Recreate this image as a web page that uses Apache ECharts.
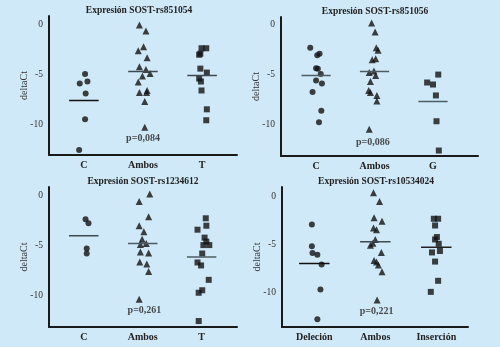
<!DOCTYPE html>
<html>
<head>
<meta charset="utf-8">
<script src="https://cdn.jsdelivr.net/npm/echarts@6/dist/echarts.min.js"></script>
<style>
html, body { margin: 0; padding: 0; background: #cfe9f8; }
#chart { width: 500px; height: 347px; }
</style>
</head>
<body>
<div id="chart"></div>
<script>
// titles, group labels and p values of the four panels
var titles = ['Expresión SOST-rs851054', 'Expresión SOST-rs851056', 'Expresión SOST-rs1234612', 'Expresión SOST-rs10534024'];
var groups = [['C', 'Ambos', 'T'], ['C', 'Ambos', 'G'], ['C', 'Ambos', 'T'], ['Deleción', 'Ambos', 'Inserción']];
var pValues = ['p=0,084', 'p=0,086', 'p=0,261', 'p=0,221'];
var yTicks = [0, -5, -10];

// deltaCt values per group, with the horizontal scatter offset of each point
var rs851054_C = [-4.95, -5.9, -5.7, -6.9, -9.5, -12.6];
var rs851054_C_dx = [0.02, -0.07, 0.06, 0.03, 0.02, -0.08];
var rs851054_A = [0, -0.6, -2.2, -2.6, -3.3, -4.2, -4.5, -4.9, -5.15, -5.75, -6.8, -6.6, -6.8, -7.7, -10.3];
var rs851054_A_dx = [-0.06, 0.05, 0.01, -0.08, 0.07, -0.06, 0.05, 0.12, -0.01, -0.08, -0.06, 0.07, 0.06, 0.03, 0.03];
var rs851054_T = [-2.35, -2.35, -2.9, -3.0, -4.4, -4.8, -5.4, -5.7, -6.6, -8.5, -9.6];
var rs851054_T_dx = [-0.01, 0.07, -0.03, -0.05, -0.03, 0.08, -0.05, -0.02, -0.01, 0.08, 0.07];
var rs851054_means = [-7.6, -4.7, -5.1];

var rs851056_C = [-2.3, -2.9, -3.05, -4.35, -4.4, -4.95, -5.6, -5.9, -6.75, -8.65, -9.8];
var rs851056_C_dx = [-0.1, 0.06, 0.02, 0, 0.03, 0.08, 0, 0.1, -0.06, 0.09, 0.05];
var rs851056_A = [0.2, -0.7, -2.3, -2.55, -3.5, -3.4, -4.65, -4.8, -5.1, -5.7, -6.6, -6.8, -7.1, -7.65, -10.5];
var rs851056_A_dx = [-0.05, 0.01, 0.03, 0.06, -0.04, 0.02, -0.01, -0.09, 0.02, -0.07, -0.1, -0.07, 0.04, 0.04, -0.09];
var rs851056_G = [-5.0, -5.8, -6.0, -7.1, -9.7, -12.65];
var rs851056_G_dx = [0.09, -0.1, 0, 0.05, 0.06, 0.1];
var rs851056_means = [-5.1, -4.7, -7.7];

var rs1234612_C = [-2.35, -2.75, -5.3, -5.8];
var rs1234612_C_dx = [0.03, 0.08, 0.05, 0.05];
var rs1234612_A = [0.2, -0.57, -2.1, -3.0, -3.6, -4.35, -4.8, -4.9, -5.65, -5.75, -6.65, -6.85, -7.6, -10.4];
var rs1234612_A_dx = [0.12, -0.06, 0.1, -0.06, 0.02, -0.01, 0.06, -0.04, -0.04, 0.1, -0.05, 0.07, 0.1, -0.06];
var rs1234612_T = [-2.25, -3.0, -3.4, -4.2, -4.6, -4.95, -4.95, -5.8, -6.7, -7.0, -8.45, -9.5, -9.75, -12.6];
var rs1234612_T_dx = [0.07, 0.08, -0.07, 0.05, 0.08, 0.03, 0.13, 0.01, -0.07, -0.01, 0.12, 0.01, -0.05, -0.05];
var rs1234612_means = [-4.0, -4.8, -6.15];

var rs10534024_D = [-2.95, -5.2, -5.9, -6.1, -7.1, -9.7, -12.8];
var rs10534024_D_dx = [-0.04, -0.04, -0.03, 0.05, 0.12, 0.1, 0.05];
var rs10534024_A = [0.35, -0.55, -2.25, -2.6, -3.3, -3.5, -4.5, -4.9, -5.1, -5.85, -6.7, -6.85, -7.15, -7.85, -10.8];
var rs10534024_A_dx = [-0.03, 0.07, -0.02, 0.11, -0.03, 0.02, 0, -0.04, -0.08, 0.1, -0.02, 0.02, 0.05, 0.11, 0.03];
var rs10534024_I = [-2.35, -2.35, -3.05, -4.25, -4.5, -4.95, -5.7, -5.85, -6.8, -8.8, -9.95];
var rs10534024_I_dx = [-0.04, 0.03, -0.02, 0.01, -0.02, 0.04, 0.06, -0.07, -0.02, 0.03, -0.09];
var rs10534024_means = [-7.0, -4.75, -5.3];

var panels = [
    { groups: [[rs851054_C, rs851054_C_dx], [rs851054_A, rs851054_A_dx], [rs851054_T, rs851054_T_dx]], means: rs851054_means,
      grid: { left: 49, right: 263, top: 16, bottom: 192 }, x: [0.41, 3.59], y: [-13.1, 0.9], p: [2, -11.4],
      meanColors: ['#111', '#3c4a50', '#3c4a50'], titleX: 139, titleY: 11 },
    { groups: [[rs851056_C, rs851056_C_dx], [rs851056_A, rs851056_A_dx], [rs851056_G, rs851056_G_dx]], means: rs851056_means,
      grid: { left: 281, right: 22, top: 17, bottom: 191 }, x: [0.4, 3.77], y: [-13.2, 0.8], p: [1.97, -11.8],
      meanColors: ['#4d5c63', '#4d5c63', '#4d5c63'], titleX: 375, titleY: 12 },
    { groups: [[rs1234612_C, rs1234612_C_dx], [rs1234612_A, rs1234612_A_dx], [rs1234612_T, rs1234612_T_dx]], means: rs1234612_means,
      grid: { left: 49, right: 263, top: 187, bottom: 20 }, x: [0.41, 3.6], y: [-13.2, 0.9], p: [2.03, -11.5],
      meanColors: ['#3c4a50', '#4d5c63', '#4d5c63'], titleX: 143, titleY: 182 },
    { groups: [[rs10534024_D, rs10534024_D_dx], [rs10534024_A, rs10534024_A_dx], [rs10534024_I, rs10534024_I_dx]], means: rs10534024_means,
      grid: { left: 282, right: 32, top: 187, bottom: 20 }, x: [0.47, 3.52], y: [-13.6, 0.95], p: [2.02, -12.0],
      meanColors: ['#111', '#3c4a50', '#222'], titleX: 376, titleY: 182 }
];

var symbols = ['circle', 'triangle', 'rect'];
var serif = '"Liberation Serif", "DejaVu Serif", serif';

var grid = [], xAxis = [], yAxis = [], series = [], graphic = [];

panels.forEach(function (pn, i) {
    grid.push(pn.grid);
    var cats = groups[i];
    xAxis.push({
        type: 'value', gridIndex: i, min: pn.x[0], max: pn.x[1],
        splitLine: { show: false },
        axisTick: { show: false },
        axisLine: { onZero: false, lineStyle: { color: '#1a1a1a', width: 2 } },
        axisLabel: {
            customValues: [1, 2, 3],
            formatter: function (v) { return cats[Math.round(v) - 1]; },
            fontFamily: serif, fontWeight: 'bold', fontSize: 10, color: '#222', margin: 5
        }
    });
    yAxis.push({
        type: 'value', gridIndex: i, min: pn.y[0], max: pn.y[1],
        name: 'deltaCt', nameLocation: 'middle', nameGap: 20, nameMoveOverlap: false,
        nameTextStyle: { fontFamily: serif, fontSize: 10, color: '#333' },
        splitLine: { show: false },
        axisTick: { show: false },
        axisLine: { onZero: false, lineStyle: { color: '#1a1a1a', width: 2 } },
        axisLabel: { customValues: yTicks, fontFamily: serif, fontSize: 9.5, color: '#333', margin: 6 }
    });

    pn.groups.forEach(function (g, k) {
        var vals = g[0], dx = g[1];
        series.push({
            type: 'scatter', xAxisIndex: i, yAxisIndex: i,
            symbol: symbols[k], symbolSize: k === 1 ? 7 : 6,
            itemStyle: { color: '#111' },
            data: vals.map(function (v, j) { return [k + 1 + dx[j], v]; })
        });
        series.push({
            type: 'line', xAxisIndex: i, yAxisIndex: i,
            symbol: 'none',
            lineStyle: { color: pn.meanColors[k], width: 1.5 },
            data: [[k + 1 - 0.25, pn.means[k]], [k + 1 + 0.25, pn.means[k]]]
        });
    });

    series.push({
        type: 'scatter', xAxisIndex: i, yAxisIndex: i,
        symbolSize: 0,
        label: {
            show: true, position: 'inside', formatter: pValues[i],
            fontFamily: serif, fontWeight: 'bold', fontSize: 10, color: '#222'
        },
        data: [pn.p]
    });

    graphic.push({
        type: 'text', x: pn.titleX, y: pn.titleY,
        style: {
            text: titles[i], textAlign: 'center', textVerticalAlign: 'middle',
            font: 'bold 9.5px ' + serif, fill: '#222'
        }
    });
});

var myChart = echarts.init(document.getElementById('chart'), null, { renderer: 'canvas' });
myChart.setOption({
    backgroundColor: '#cfe9f8',
    animation: false,
    grid: grid,
    xAxis: xAxis,
    yAxis: yAxis,
    series: series,
    graphic: graphic
});
</script>
</body>
</html>
